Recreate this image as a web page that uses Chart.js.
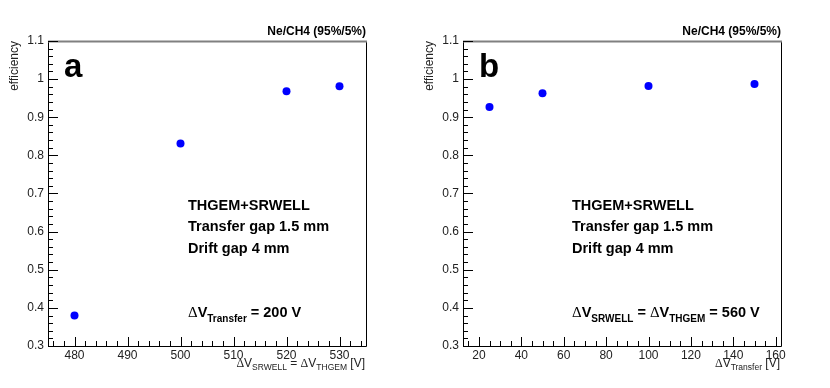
<!DOCTYPE html>
<html>
<head>
<meta charset="utf-8">
<script src="https://cdn.jsdelivr.net/npm/chart.js@4.4.1/dist/chart.umd.min.js"></script>
<style>
  html, body { margin: 0; padding: 0; background: #fff; }
  .panel { position: absolute; top: 0; width: 415px; height: 388px; }
</style>
</head>
<body>
<div class="panel" style="left:0"><canvas id="chart-a" width="415" height="388"></canvas></div>
<div class="panel" style="left:415px"><canvas id="chart-b" width="415" height="388"></canvas></div>
<script>
// ---- data ----
const voltageA = [480, 500, 520, 530];
const efficiencyA = [0.38, 0.831, 0.968, 0.981];

const transferB = [25, 50, 100, 150];
const efficiencyB = [0.927, 0.963, 0.982, 0.987];

const yTicks = [0.3, 0.4, 0.5, 0.6, 0.7, 0.8, 0.9, 1.0, 1.1];
const xTicksA = [480, 490, 500, 510, 520, 530];
const xTicksB = [20, 40, 60, 80, 100, 120, 140, 160];

const SANS = '"Liberation Sans", Arial, Helvetica, sans-serif';
const SERIF = '"Liberation Serif", "Times New Roman", serif';

// draw a run of text pieces (for subscripts), anchored left or right
function drawRich(ctx, parts, x, y, align) {
    let total = 0;
    parts.forEach(p => { ctx.font = p.font; total += ctx.measureText(p.t).width; });
    let cx = align === 'right' ? x - total : x;
    ctx.textAlign = 'left';
    ctx.textBaseline = 'alphabetic';
    parts.forEach(p => {
        ctx.font = p.font;
        ctx.fillText(p.t, cx, y + (p.dy || 0));
        cx += ctx.measureText(p.t).width;
    });
}

// ROOT-like frame with inward major/minor ticks plus the text annotations
const rootFrame = {
    id: 'rootFrame',
    afterDraw(chart, args, opts) {
        const ctx = chart.ctx;
        const { left, right, top, bottom } = chart.chartArea;
        const xs = chart.scales.x, ys = chart.scales.y;
        ctx.save();

        // frame
        ctx.strokeStyle = '#000';
        ctx.lineWidth = 1;
        ctx.beginPath();
        ctx.moveTo(left + 0.5, top);
        ctx.lineTo(left + 0.5, bottom + 0.5);
        ctx.lineTo(right + 0.5, bottom + 0.5);
        ctx.lineTo(right + 0.5, top);
        ctx.stroke();
        ctx.strokeStyle = '#808080';
        ctx.lineWidth = 2;
        ctx.beginPath();
        ctx.moveTo(left, top + 0.5);
        ctx.lineTo(right + 1, top + 0.5);
        ctx.stroke();

        // ticks
        ctx.strokeStyle = '#000';
        ctx.lineWidth = 1;
        ctx.beginPath();
        for (let v = ys.min; v <= ys.max + 1e-9; v += 0.02) {
            const py = Math.round(ys.getPixelForValue(v)) + 0.5;
            const major = Math.abs(v * 10 - Math.round(v * 10)) < 1e-6;
            ctx.moveTo(left, py);
            ctx.lineTo(left + (major ? 10 : 5), py);
        }
        const step = opts.minorStep, majorStep = opts.majorStep;
        for (let v = Math.ceil(xs.min / step) * step; v <= xs.max + 1e-9; v += step) {
            const px = Math.round(xs.getPixelForValue(v)) + 0.5;
            const major = Math.abs(v / majorStep - Math.round(v / majorStep)) < 1e-6;
            ctx.moveTo(px, bottom);
            ctx.lineTo(px, bottom - (major ? 9 : 5));
        }
        ctx.stroke();

        ctx.fillStyle = '#000';
        // header
        ctx.font = 'bold 12px ' + SANS;
        ctx.textAlign = 'right';
        ctx.textBaseline = 'alphabetic';
        ctx.fillText('Ne/CH4 (95%/5%)', right, 35);

        // panel letter
        ctx.font = 'bold 33px ' + SANS;
        ctx.textAlign = 'left';
        ctx.fillText(opts.letter, 64, 77);

        // text box
        const tx = opts.textX;
        ctx.font = 'bold 14.5px ' + SANS;
        ctx.fillText('THGEM+SRWELL', tx, 210);
        ctx.fillText('Transfer gap 1.5 mm', tx, 231);
        ctx.fillText('Drift gap 4 mm', tx, 253);
        drawRich(ctx, opts.condition, tx, 317, 'left');

        // x axis title
        ctx.fillStyle = '#222';
        drawRich(ctx, opts.xTitle, right - 1, 367, 'right');
        ctx.restore();
    }
};

const B = 'bold 14.5px ' + SANS, BS = 'bold 10px ' + SANS, D = '15px ' + SERIF;
const N = '12px ' + SANS, NS = '8.5px ' + SANS, ND = '12px ' + SERIF;

function makeChart(id, xs, ys, xMin, xMax, xTicks, frameOpts) {
    const ctx = document.getElementById(id).getContext('2d');
    return new Chart(ctx, {
        type: 'scatter',
        data: {
            datasets: [{
                data: xs.map((x, i) => ({ x, y: ys[i] })),
                backgroundColor: '#0000ff',
                borderColor: '#0000ff',
                pointRadius: 4,
                pointHoverRadius: 4,
                borderWidth: 0
            }]
        },
        options: {
            responsive: false,
            animation: false,
            layout: { padding: { top: 41, right: 49, bottom: 0, left: 0 } },
            plugins: {
                legend: { display: false },
                tooltip: { enabled: false },
                rootFrame: frameOpts
            },
            scales: {
                x: {
                    type: 'linear',
                    min: xMin,
                    max: xMax,
                    afterBuildTicks: s => { s.ticks = xTicks.map(v => ({ value: v })); },
                    afterFit: s => { s.height = 42; },
                    grid: { display: false, drawTicks: false },
                    border: { display: false },
                    ticks: { color: '#222', font: { family: SANS, size: 12 }, padding: 2, maxRotation: 0 }
                },
                y: {
                    min: 0.3,
                    max: 1.1,
                    afterBuildTicks: s => { s.ticks = yTicks.map(v => ({ value: v })); },
                    afterFit: s => { s.width = 48; },
                    grid: { display: false, drawTicks: false },
                    border: { display: false },
                    ticks: {
                        color: '#222',
                        font: { family: SANS, size: 12 },
                        padding: 4,
                        callback: v => String(Math.round(v * 10) / 10)
                    },
                    title: {
                        display: true,
                        text: 'efficiency',
                        align: 'end',
                        color: '#222',
                        font: { family: SANS, size: 12 },
                        padding: { top: 7, bottom: 0 }
                    }
                }
            }
        },
        plugins: [rootFrame]
    });
}

makeChart('chart-a', voltageA, efficiencyA, 475, 535, xTicksA, {
    letter: 'a',
    textX: 188,
    minorStep: 2,
    majorStep: 10,
    condition: [
        { t: '\u0394', font: D }, { t: 'V', font: B },
        { t: 'Transfer', font: BS, dy: 5 }, { t: ' = 200 V', font: B }
    ],
    xTitle: [
        { t: '\u0394', font: ND }, { t: 'V', font: N }, { t: 'SRWELL', font: NS, dy: 3 },
        { t: ' = ', font: N }, { t: '\u0394', font: ND }, { t: 'V', font: N },
        { t: 'THGEM', font: NS, dy: 3 }, { t: ' [V]', font: N }
    ]
});

makeChart('chart-b', transferB, efficiencyB, 12.5, 162.5, xTicksB, {
    letter: 'b',
    textX: 157,
    minorStep: 5,
    majorStep: 20,
    condition: [
        { t: '\u0394', font: D }, { t: 'V', font: B }, { t: 'SRWELL', font: BS, dy: 5 },
        { t: ' = ', font: B }, { t: '\u0394', font: D }, { t: 'V', font: B },
        { t: 'THGEM', font: BS, dy: 5 }, { t: ' = 560 V', font: B }
    ],
    xTitle: [
        { t: '\u0394', font: ND }, { t: 'V', font: N },
        { t: 'Transfer', font: NS, dy: 3 }, { t: ' [V]', font: N }
    ]
});
</script>
</body>
</html>
